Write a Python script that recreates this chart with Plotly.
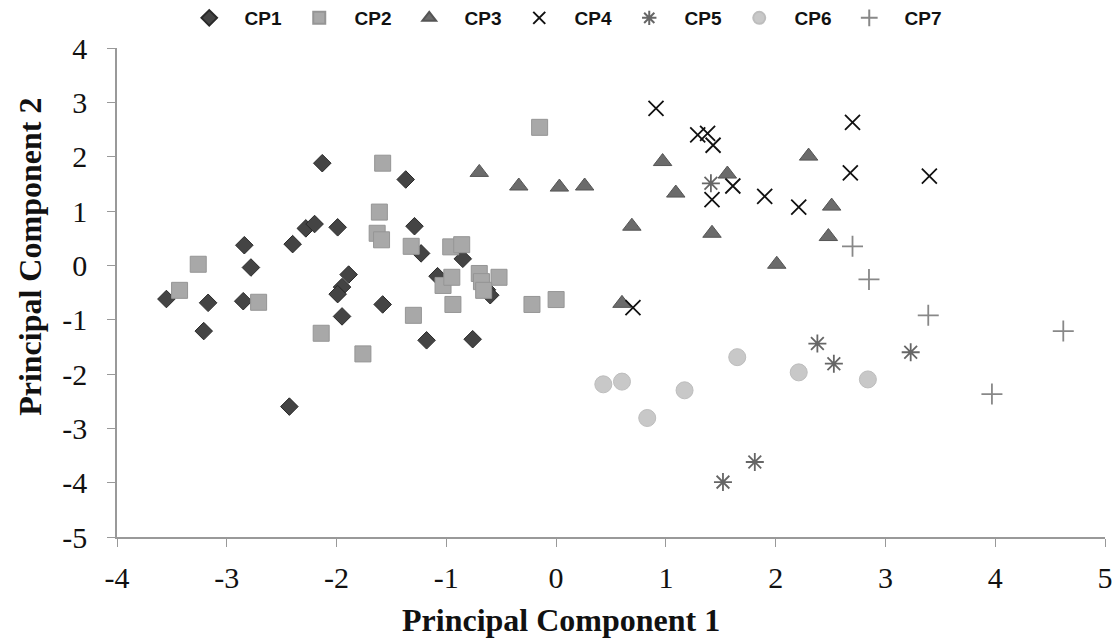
import plotly.graph_objects as go

cp1_x = [-3.55, -3.17, -3.21, -2.84, -2.78, -2.85, -2.40, -2.43, -2.28, -2.20, -1.99, -2.13, -1.37, -1.29,
         -1.23, -1.89, -1.95, -1.99, -1.58, -1.95, -0.85, -1.08, -0.63, -0.60, -1.18, -0.76]
cp1_y = [-0.62, -0.69, -1.21, 0.37, -0.04, -0.66, 0.39, -2.60, 0.68, 0.76, 0.70, 1.88, 1.58, 0.72,
         0.22, -0.17, -0.40, -0.53, -0.72, -0.94, 0.12, -0.20, -0.45, -0.55, -1.38, -1.36]

cp2_x = [-1.58, -1.61, -1.63, -1.59, -1.32, -3.26, -3.43, -2.71, -1.30, -2.14, -1.76, -0.15, -0.96,
         -0.86, -1.03, -0.95, -0.70, -0.52, -0.68, -0.66, -0.94, -0.22, 0.00]
cp2_y = [1.88, 0.98, 0.59, 0.47, 0.35, 0.02, -0.46, -0.68, -0.92, -1.25, -1.63, 2.54, 0.34,
         0.38, -0.37, -0.22, -0.15, -0.22, -0.30, -0.46, -0.72, -0.72, -0.63]

cp3_x = [-0.70, -0.34, 0.03, 0.26, 0.69, 0.60, 0.97, 1.09, 1.56, 1.42, 2.30, 2.51, 2.48, 2.01]
cp3_y = [1.71, 1.46, 1.44, 1.46, 0.72, -0.70, 1.91, 1.33, 1.68, 0.59, 2.01, 1.09, 0.53, 0.02]

cp4_x = [0.91, 1.29, 1.38, 1.43, 2.70, 2.68, 1.61, 1.42, 1.90, 2.21, 0.70, 3.40]
cp4_y = [2.89, 2.40, 2.43, 2.21, 2.63, 1.70, 1.46, 1.21, 1.27, 1.07, -0.78, 1.64]

cp5_x = [1.41, 2.38, 2.53, 3.23, 1.81, 1.52]
cp5_y = [1.51, -1.44, -1.81, -1.60, -3.62, -3.99]

cp6_x = [0.43, 0.60, 0.83, 1.17, 1.65, 2.21, 2.84]
cp6_y = [-2.19, -2.14, -2.81, -2.30, -1.69, -1.97, -2.10]

cp7_x = [2.70, 2.85, 3.39, 4.62, 3.97]
cp7_y = [0.35, -0.26, -0.92, -1.21, -2.37]

x_ticks = [-4, -3, -2, -1, 0, 1, 2, 3, 4, 5]
x_tick_labels = ["-4", "-3", "-2", "-1", "0", "1", "2", "3", "4", "5"]
y_ticks = [4, 3, 2, 1, 0, -1, -2, -3, -4, -5]
y_tick_labels = ["4", "3", "2", "1", "0", "-1", "-2", "-3", "-4", "-5"]

series = [
    ("CP1", cp1_x, cp1_y, dict(symbol="diamond", size=13.5, color="#444444", line=dict(color="#2a2a2a", width=1))),
    ("CP2", cp2_x, cp2_y, dict(symbol="square", size=16, color="#a8a8a8", line=dict(color="#959595", width=1))),
    ("CP3", cp3_x, cp3_y, dict(symbol="triangle-up", size=16, color="#6b6b6b", line=dict(color="#555555", width=1))),
    ("CP4", cp4_x, cp4_y, dict(symbol="x-thin-open", size=15, color="#111111", line=dict(color="#111111", width=1.8))),
    ("CP5", cp5_x, cp5_y, dict(symbol="asterisk-open", size=15, color="#666666", line=dict(color="#666666", width=1.8))),
    ("CP6", cp6_x, cp6_y, dict(symbol="circle", size=17, color="#c8c8c8", line=dict(color="#bdbdbd", width=1))),
    ("CP7", cp7_x, cp7_y, dict(symbol="cross-thin-open", size=15, color="#888888", line=dict(color="#888888", width=1.8))),
]

fig = go.Figure()
for name, xs, ys, mk in series:
    fig.add_trace(go.Scatter(x=xs, y=ys, mode="markers", name="\u00a0" + name, marker=mk))

axis_font = dict(family="Liberation Serif", size=30, color="#111111")
title_font = dict(family="Liberation Serif", size=32, color="#111111", weight="bold")

fig.update_layout(
    width=1115, height=638,
    margin=dict(l=117, r=10, t=48, b=101, autoexpand=False),
    plot_bgcolor="white", paper_bgcolor="white",
    legend=dict(orientation="h", x=0.063, xanchor="left", yref="container", y=0.9718, yanchor="middle",
                font=dict(family="Liberation Sans", size=19, color="#111111", weight="bold"),
                entrywidth=45, entrywidthmode="pixels", itemwidth=50, itemsizing="constant", tracegroupgap=0),
    xaxis=dict(range=[-4, 5], tickvals=x_ticks, ticktext=x_tick_labels, ticks="outside", ticklen=8,
               tickcolor="#999999", showline=True, linecolor="#999999", linewidth=1.5, showgrid=False,
               zeroline=False, automargin=False, ticklabelstandoff=5, tickfont=axis_font),
    yaxis=dict(range=[-5, 4], tickvals=y_ticks, ticktext=y_tick_labels, ticks="outside", ticklen=8,
               tickcolor="#999999", showline=True, linecolor="#999999", linewidth=1.5, showgrid=False,
               zeroline=False, automargin=False, ticklabelstandoff=14, tickfont=axis_font),
    annotations=[
        dict(text="Principal Component 1", xref="paper", yref="paper", x=0.449, y=-0.170,
             xanchor="center", yanchor="middle", showarrow=False, font=title_font),
        dict(text="Principal Component 2", xref="paper", yref="paper", x=-0.088, y=0.573,
             xanchor="center", yanchor="middle", textangle=-90, showarrow=False, font=title_font),
    ],
)

fig.write_html("out.html", config={"displayModeBar": False},
               post_script="document.body.style.margin='0';document.body.style.overflow='hidden';")
